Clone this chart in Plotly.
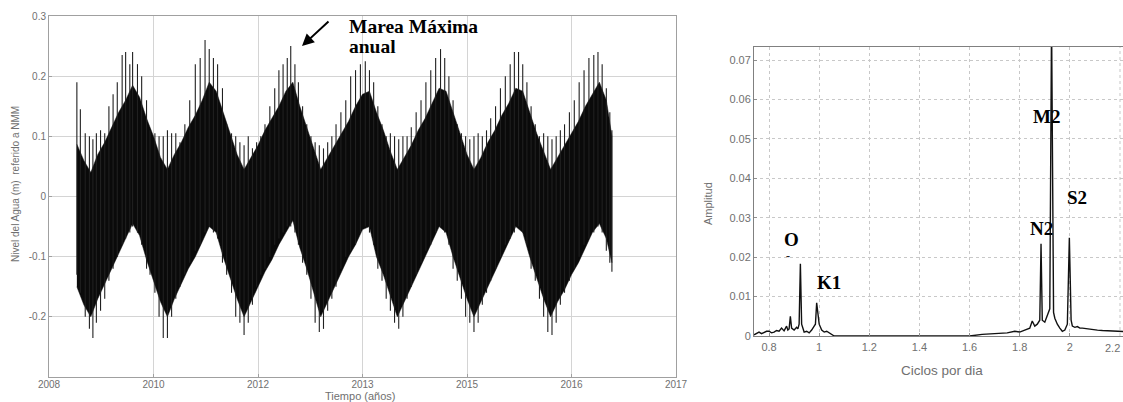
import plotly.graph_objects as go

# ---------------- Left panel: water level time series ----------------
t_core = [2008.40, 2008.50, 2008.60, 2008.70, 2008.80, 2008.90, 2009.00, 2009.10, 2009.20, 2009.30,
          2009.40, 2009.50, 2009.60, 2009.70, 2009.80, 2009.90, 2010.00, 2010.10, 2010.20, 2010.30,
          2010.40, 2010.50, 2010.60, 2010.70, 2010.80, 2010.90, 2011.00, 2011.10, 2011.20, 2011.30,
          2011.40, 2011.50, 2011.60, 2011.70, 2011.80, 2011.90, 2012.00, 2012.10, 2012.20, 2012.30,
          2012.40, 2012.50, 2012.60, 2012.70, 2012.80, 2012.90, 2013.00, 2013.10, 2013.20, 2013.30,
          2013.40, 2013.50, 2013.60, 2013.70, 2013.80, 2013.90, 2014.00, 2014.10, 2014.20, 2014.30,
          2014.40, 2014.50, 2014.60, 2014.70, 2014.80, 2014.90, 2015.00, 2015.10, 2015.20, 2015.30,
          2015.40, 2015.50, 2015.60, 2015.70, 2015.80, 2015.90, 2016.00, 2016.08]
core_hi = [0.087, 0.060, 0.040, 0.070, 0.090, 0.115, 0.140, 0.160, 0.185, 0.165,
           0.130, 0.100, 0.065, 0.045, 0.070, 0.090, 0.115, 0.135, 0.160, 0.190,
           0.175, 0.140, 0.105, 0.070, 0.045, 0.065, 0.085, 0.110, 0.130, 0.150,
           0.175, 0.190, 0.150, 0.115, 0.080, 0.045, 0.065, 0.085, 0.105, 0.125,
           0.150, 0.170, 0.175, 0.140, 0.110, 0.075, 0.045, 0.065, 0.085, 0.110,
           0.130, 0.155, 0.180, 0.175, 0.140, 0.105, 0.070, 0.045, 0.065, 0.090,
           0.110, 0.135, 0.155, 0.180, 0.175, 0.140, 0.105, 0.075, 0.045, 0.065,
           0.085, 0.105, 0.125, 0.150, 0.170, 0.190, 0.160, 0.100]
core_lo = [-0.150, -0.180, -0.200, -0.170, -0.145, -0.120, -0.095, -0.070, -0.045, -0.065,
           -0.105, -0.140, -0.175, -0.200, -0.170, -0.145, -0.120, -0.100, -0.075, -0.050,
           -0.060, -0.100, -0.135, -0.170, -0.200, -0.175, -0.150, -0.125, -0.105, -0.080,
           -0.060, -0.040, -0.085, -0.120, -0.160, -0.200, -0.175, -0.150, -0.125, -0.100,
           -0.080, -0.055, -0.050, -0.100, -0.130, -0.165, -0.200, -0.175, -0.150, -0.125,
           -0.100, -0.075, -0.050, -0.060, -0.100, -0.135, -0.170, -0.200, -0.175, -0.150,
           -0.125, -0.100, -0.075, -0.050, -0.060, -0.100, -0.135, -0.170, -0.200, -0.175,
           -0.155, -0.130, -0.110, -0.085, -0.060, -0.045, -0.070, -0.110]

spike_t = [2008.40, 2008.45, 2008.52, 2008.58, 2008.63, 2008.68, 2008.74, 2008.80, 2008.86, 2008.92, 2008.98,
           2009.05, 2009.10, 2009.16, 2009.20, 2009.27, 2009.33, 2009.40, 2009.45, 2009.52, 2009.58, 2009.64,
           2009.70, 2009.76, 2009.82, 2009.88, 2009.95, 2010.02, 2010.10, 2010.17, 2010.24, 2010.30, 2010.36,
           2010.42, 2010.49, 2010.55, 2010.62, 2010.68, 2010.74, 2010.80, 2010.86, 2010.92, 2010.98, 2011.04,
           2011.10, 2011.17, 2011.24, 2011.30, 2011.36, 2011.42, 2011.47, 2011.53, 2011.58, 2011.64, 2011.70,
           2011.76, 2011.82, 2011.88, 2011.94, 2012.00, 2012.06, 2012.12, 2012.19, 2012.26, 2012.33, 2012.40,
           2012.47, 2012.54, 2012.60, 2012.66, 2012.72, 2012.78, 2012.84, 2012.90, 2012.96, 2013.02, 2013.08,
           2013.14, 2013.20, 2013.27, 2013.34, 2013.41, 2013.48, 2013.55, 2013.62, 2013.68, 2013.74, 2013.80,
           2013.86, 2013.92, 2013.98, 2014.04, 2014.10, 2014.16, 2014.22, 2014.28, 2014.34, 2014.41, 2014.48,
           2014.55, 2014.62, 2014.68, 2014.74, 2014.80, 2014.86, 2014.92, 2014.98, 2015.04, 2015.10, 2015.16,
           2015.22, 2015.28, 2015.34, 2015.40, 2015.47, 2015.54, 2015.61, 2015.68, 2015.75, 2015.82, 2015.88,
           2015.94, 2016.00, 2016.05, 2016.08]
spike_hi = [0.190, 0.145, 0.105, 0.100, 0.095, 0.105, 0.110, 0.105, 0.150, 0.170, 0.190,
            0.235, 0.240, 0.220, 0.240, 0.220, 0.200, 0.160, 0.110, 0.105, 0.100, 0.100,
            0.110, 0.105, 0.105, 0.090, 0.120, 0.160, 0.220, 0.230, 0.260, 0.245, 0.230,
            0.220, 0.180, 0.120, 0.105, 0.100, 0.090, 0.085, 0.100, 0.080, 0.090, 0.100,
            0.120, 0.150, 0.180, 0.210, 0.220, 0.230, 0.250, 0.220, 0.190, 0.150, 0.120,
            0.100, 0.090, 0.085, 0.080, 0.090, 0.100, 0.120, 0.140, 0.160, 0.200, 0.210,
            0.220, 0.225, 0.210, 0.190, 0.150, 0.120, 0.100, 0.105, 0.100, 0.095, 0.100,
            0.100, 0.115, 0.140, 0.160, 0.190, 0.210, 0.230, 0.245, 0.230, 0.200, 0.160,
            0.120, 0.105, 0.100, 0.095, 0.100, 0.105, 0.100, 0.110, 0.130, 0.150, 0.180,
            0.200, 0.220, 0.240, 0.240, 0.220, 0.190, 0.150, 0.120, 0.100, 0.105, 0.100,
            0.095, 0.100, 0.110, 0.120, 0.140, 0.160, 0.190, 0.210, 0.230, 0.235, 0.240,
            0.220, 0.180, 0.140, 0.110]
spike_lo = [-0.130, -0.160, -0.200, -0.220, -0.235, -0.210, -0.190, -0.170, -0.140, -0.120, -0.100,
            -0.080, -0.070, -0.060, -0.050, -0.060, -0.080, -0.120, -0.130, -0.160, -0.200, -0.235,
            -0.235, -0.200, -0.170, -0.150, -0.130, -0.110, -0.090, -0.080, -0.060, -0.050, -0.060,
            -0.070, -0.110, -0.130, -0.160, -0.200, -0.210, -0.230, -0.210, -0.180, -0.150, -0.130,
            -0.120, -0.100, -0.080, -0.070, -0.060, -0.050, -0.050, -0.060, -0.080, -0.110, -0.130,
            -0.170, -0.210, -0.225, -0.220, -0.190, -0.170, -0.150, -0.120, -0.100, -0.090, -0.080,
            -0.060, -0.050, -0.060, -0.080, -0.120, -0.140, -0.170, -0.190, -0.210, -0.220, -0.200,
            -0.170, -0.150, -0.130, -0.110, -0.090, -0.080, -0.060, -0.050, -0.060, -0.080, -0.120,
            -0.140, -0.170, -0.200, -0.210, -0.225, -0.210, -0.180, -0.160, -0.140, -0.120, -0.100,
            -0.080, -0.070, -0.060, -0.050, -0.060, -0.080, -0.120, -0.140, -0.170, -0.200, -0.225,
            -0.230, -0.210, -0.180, -0.160, -0.140, -0.120, -0.100, -0.080, -0.070, -0.060, -0.050,
            -0.060, -0.090, -0.110, -0.125]

left_xticks = [2008.0, 2009.5, 2011.0, 2012.5, 2014.0, 2015.5, 2017.0]
left_xticklabels = ["2008", "2010", "2012", "2013", "2015", "2016", "2017"]
left_yticks = [0.3, 0.2, 0.1, 0.0, -0.1, -0.2]
left_yticklabels = ["0.3", "0.2", "0.1", "0", "-0.1", "-0.2"]

# ---------------- Right panel: amplitude spectrum ----------------
freq = [0.74, 0.75, 0.76, 0.77, 0.78, 0.79, 0.80, 0.81, 0.82, 0.83, 0.84, 0.85, 0.86, 0.87, 0.875, 0.88,
        0.885, 0.89, 0.90, 0.91, 0.915, 0.92, 0.925, 0.93, 0.94, 0.95, 0.96, 0.97, 0.98, 0.985, 0.99,
        0.995, 1.00, 1.01, 1.02, 1.03, 1.04, 1.05, 1.06, 1.60, 1.65, 1.70, 1.75, 1.78, 1.80, 1.82, 1.84,
        1.85, 1.86, 1.87, 1.88, 1.885, 1.89, 1.90, 1.91, 1.92, 1.927, 1.935, 1.94, 1.95, 1.96, 1.97,
        1.98, 1.99, 1.998, 2.005, 2.01, 2.02, 2.03, 2.04, 2.05, 2.07, 2.09, 2.11, 2.13, 2.15, 2.18, 2.22]
amp = [0.0003, 0.0007, 0.0010, 0.0006, 0.0010, 0.0012, 0.0012, 0.0008, 0.0010, 0.0014, 0.0012, 0.0020,
       0.0013, 0.0025, 0.0015, 0.0018, 0.0050, 0.0020, 0.0015, 0.0022, 0.0018, 0.0030, 0.0183, 0.0030,
       0.0010, 0.0012, 0.0008, 0.0015, 0.0025, 0.0030, 0.0084, 0.0050, 0.0030, 0.0015, 0.0010, 0.0012,
       0.0008, 0.0003, 0.0000, 0.0000, 0.0004, 0.0006, 0.0008, 0.0012, 0.0010, 0.0015, 0.0020, 0.0038,
       0.0025, 0.0030, 0.0040, 0.0234, 0.0040, 0.0035, 0.0055, 0.0069, 0.0800, 0.0060, 0.0045, 0.0030,
       0.0020, 0.0012, 0.0015, 0.0030, 0.0249, 0.0040, 0.0025, 0.0022, 0.0024, 0.0020, 0.0020, 0.0018,
       0.0017, 0.0015, 0.0014, 0.0013, 0.0012, 0.0011]

right_xticks = [0.8, 1.0, 1.2, 1.4, 1.6, 1.8, 2.0]
right_xticklabels = ["0.8", "1", "1.2", "1.4", "1.6", "1.8", "2"]
right_yticks = [0, 0.01, 0.02, 0.03, 0.04, 0.05, 0.06, 0.07]
right_yticklabels = ["0", "0.01", "0.02", "0.03", "0.04", "0.05", "0.06", "0.07"]

peak_labels = ["O", "K1", "N2", "M2", "S2"]
peak_label_x = [0.888, 1.04, 1.886, 1.906, 2.03]
peak_label_y = [0.0246, 0.0136, 0.0273, 0.0556, 0.0352]

W, H = 1123, 402

fig = go.Figure()

# core band
fig.add_trace(go.Scatter(
    x=t_core + t_core[::-1], y=core_hi + core_lo[::-1],
    fill="toself", fillcolor="#0a0a0a", line=dict(width=0.5, color="#0a0a0a"),
    mode="lines", xaxis="x", yaxis="y", hoverinfo="skip", showlegend=False))

# spikes
sx, sy = [], []
for t, hi, lo in zip(spike_t, spike_hi, spike_lo):
    sx += [t, t, None]
    sy += [lo, hi, None]
fig.add_trace(go.Scatter(x=sx, y=sy, mode="lines", line=dict(width=1.1, color="#202020"),
                         xaxis="x", yaxis="y", hoverinfo="skip", showlegend=False))

# spectrum
fig.add_trace(go.Scatter(x=freq, y=amp, mode="lines", line=dict(width=1.4, color="#111111"),
                         xaxis="x2", yaxis="y2", showlegend=False))

grey = "#707070"
tickfont_l = dict(family="Liberation Sans, Arial", size=10, color=grey)
tickfont_r = dict(family="Liberation Sans, Arial", size=11, color=grey)

fig.update_layout(
    width=W, height=H, margin=dict(l=0, r=0, t=0, b=0),
    paper_bgcolor="white", plot_bgcolor="white",
    xaxis=dict(domain=[49 / W, 676 / W], range=[2008, 2017], tickvals=left_xticks,
               ticktext=left_xticklabels, showgrid=True, gridcolor="#d4d4d4", gridwidth=1,
               showline=True, linecolor="#a0a0a0", mirror=True, zeroline=False,
               ticks="inside", ticklen=3, tickcolor="#a0a0a0", tickfont=tickfont_l,
               ticklabelstandoff=-2, automargin=False),
    yaxis=dict(domain=[1 - 377 / H, 1 - 16 / H], range=[-0.3, 0.3], tickvals=left_yticks,
               ticktext=left_yticklabels, showgrid=True, gridcolor="#d4d4d4", gridwidth=1,
               showline=True, linecolor="#a0a0a0", mirror=True, zeroline=False,
               ticks="inside", ticklen=3, tickcolor="#a0a0a0", tickfont=tickfont_l,
               automargin=False),
    xaxis2=dict(domain=[754 / W, 1.0], range=[0.74, 2.212], tickvals=right_xticks,
                ticktext=right_xticklabels, showgrid=True, gridcolor="#c8c8c8", griddash="dot",
                showline=True, linecolor="#808080", mirror=True, zeroline=False,
                ticks="inside", ticklen=3, tickcolor="#909090", tickfont=tickfont_r,
                ticklabelstandoff=1, anchor="y2", automargin=False),
    yaxis2=dict(domain=[1 - 336 / H, 1 - 47 / H], range=[0, 0.0733], tickvals=right_yticks,
                ticktext=right_yticklabels, showgrid=True, gridcolor="#c8c8c8", griddash="dot",
                showline=True, linecolor="#808080", mirror=True, zeroline=False,
                ticks="inside", ticklen=3, tickcolor="#909090", tickfont=tickfont_r,
                anchor="x2", automargin=False),
)

# extra vertical grid line at 2.2
fig.add_shape(type="line", xref="x2", yref="y2", x0=2.2, x1=2.2, y0=0, y1=0.0733,
              line=dict(color="#c8c8c8", width=1, dash="dot"), layer="below")


def pa(px, py, text, font, **kw):
    d = dict(text=text, xref="paper", yref="paper", x=px / W, y=1 - py / H,
             xanchor="center", yanchor="middle", showarrow=False, font=font)
    d.update(kw)
    return d


sans = "Liberation Sans, Arial"
serif = "Liberation Serif, Times New Roman"
ann = []
ann.append(pa(15, 184, "Nivel del Agua (m)  referido a NMM", dict(family=sans, size=10, color=grey),
              textangle=-90))
ann.append(pa(360, 396, "Tiempo (años)", dict(family=sans, size=11, color=grey)))
ann.append(pa(1122, 348, "2.2", tickfont_r, xanchor="right"))
ann.append(pa(708, 203, "Amplitud", dict(family=sans, size=11, color=grey), textangle=-90))
ann.append(pa(942, 370, "Ciclos por dia", dict(family=sans, size=13.5, color=grey)))
# main annotation
ann.append(pa(347, 27, "<b>Marea Máxima</b>", dict(family=serif, size=19.5, color="black"),
              xanchor="left"))
ann.append(pa(347, 46, "<b>anual</b>", dict(family=serif, size=19.5, color="black"),
              xanchor="left"))
ann.append(dict(text="", xref="paper", yref="paper", x=302 / W, y=1 - 46 / H,
                ax=28, ay=-26, showarrow=True, arrowhead=2, arrowsize=1.2, arrowwidth=2,
                arrowcolor="black"))
# peak labels
for lab, lx, ly in zip(peak_labels, peak_label_x, peak_label_y):
    ann.append(dict(text="<b>%s</b>" % lab, xref="x2", yref="y2", x=lx, y=ly, showarrow=False,
                    xanchor="center", yanchor="middle",
                    font=dict(family=serif, size=19, color="black")))
# small mark under the "O" label
ann.append(pa(788, 256, "<b>-</b>", dict(family=serif, size=12, color="#222222")))
fig.update_layout(annotations=ann)

fig.write_html("out.html", config={"displayModeBar": False},
               post_script="document.body.style.margin='0';document.body.style.overflow='hidden';")
